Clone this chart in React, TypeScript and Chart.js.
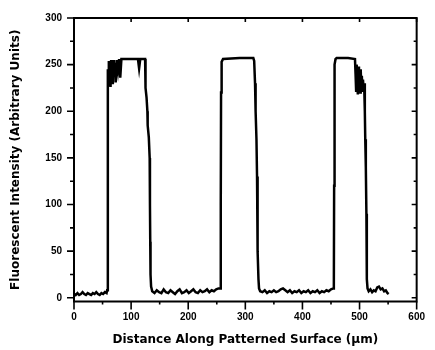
import React, { useEffect, useRef } from "react";
import { Chart, registerables } from "chart.js";

Chart.register(...registerables);

// Distance along patterned surface (µm)
const positionUm = [
  1, 3, 6, 9, 12, 15, 18, 21, 24, 27, 30, 33, 36, 39, 42, 45, 48, 51, 54, 57,
  58, 59, 59.5, 60, 61, 62, 63, 64, 65, 66, 67, 68, 69, 70, 72, 73, 75, 77, 79, 81, 83,
  85, 100, 112, 114, 116, 124.5, 125, 125.5, 127, 128.5, 129, 131, 132.5, 133, 133.5, 134, 135, 137,
  141, 145, 149, 153, 157, 161, 165, 169, 173, 177, 181, 185, 189, 193, 197, 201, 205, 209, 213, 217,
  221, 225, 229, 233, 237, 241, 245, 249, 253,
  256, 257, 257.5, 258, 259, 261, 290, 314, 315.5, 317, 318, 319.5, 320.5, 321, 322, 323, 324, 326,
  330, 334, 338, 342, 346, 350, 354, 358, 362, 366, 370, 374, 378, 382, 386, 390, 394, 398, 402, 406,
  410, 414, 418, 422, 426, 430, 434, 438, 442, 446, 450, 454,
  455, 455.5, 456, 456.5, 458, 460, 480, 492, 493, 494, 495, 496, 497, 498, 499, 500, 501, 502, 503,
  504, 505, 506, 507, 508, 509, 509.5, 510, 511, 512, 512.5, 513, 514, 516,
  519, 522, 525, 528, 531, 534, 537, 540, 543, 546, 549, 551,
];

// Fluorescent intensity (arbitrary units)
const intensity = [
  4, 3, 5, 3, 4, 6, 4, 3, 5, 4, 3, 5, 4, 6, 4, 3, 5, 4, 6, 5,
  8, 120, 245, 228, 254, 232, 250, 226, 255, 238, 250, 229, 255, 240, 252, 231, 255, 244, 256, 236, 256,
  256, 256, 256, 246, 256, 256, 240, 225, 215, 200, 185, 172, 150, 100, 60, 25, 12, 7,
  5, 8, 6, 5, 9, 6, 5, 8, 6, 4, 7, 9, 5, 6, 8, 5, 7, 9, 6, 5,
  8, 6, 7, 9, 6, 8, 7, 9, 10,
  10, 100, 220, 245, 253, 256, 257, 257, 254, 230, 200, 170, 130, 90, 50, 20, 10, 7,
  6, 8, 5, 7, 6, 8, 6, 7, 9, 10, 8, 6, 8, 5, 7, 6, 8, 5, 7, 6,
  8, 5, 7, 6, 8, 5, 7, 6, 8, 7, 9, 10,
  12, 120, 230, 250, 256, 257, 257, 256, 240, 222, 250, 230, 218, 248, 226, 240, 220, 245, 228,
  238, 222, 234, 225, 230, 220, 200, 170, 140, 90, 50, 20, 10, 7,
  9, 6, 8, 7, 11, 12, 9, 10, 7, 8, 5, 4,
];

const xTickValues = [0, 100, 200, 300, 400, 500, 600];
const xMinorValues = [50, 150, 250, 350, 450, 550];
const yTickValues = [0, 50, 100, 150, 200, 250, 300];
const yMinorValues = [25, 75, 125, 175, 225, 275];

const xTitle = "Distance Along Patterned Surface (µm)";
const yTitle = "Fluorescent Intensity (Arbitrary Units)";

const TICK_FONT = "'Liberation Sans', Arial, sans-serif";
const TITLE_FONT = "'DejaVu Sans', sans-serif";

const frameTicksPlugin = {
  id: "frameTicks",
  afterDraw(chart: any) {
    const { ctx, chartArea: a, scales } = chart;
    const x = scales.x;
    const y = scales.y;
    ctx.save();
    ctx.strokeStyle = "#000";
    ctx.lineWidth = 2;
    ctx.strokeRect(a.left, a.top, a.right - a.left, a.bottom - a.top);
    ctx.lineWidth = 1.6;
    ctx.beginPath();
    for (const v of yTickValues) {
      const py = y.getPixelForValue(v);
      ctx.moveTo(a.left - 7, py);
      ctx.lineTo(a.left, py);
      ctx.moveTo(a.right, py);
      ctx.lineTo(a.right - 5, py);
    }
    for (const v of yMinorValues) {
      const py = y.getPixelForValue(v);
      ctx.moveTo(a.left - 4, py);
      ctx.lineTo(a.left, py);
      ctx.moveTo(a.right, py);
      ctx.lineTo(a.right - 3, py);
    }
    for (const v of xTickValues) {
      const px = x.getPixelForValue(v);
      ctx.moveTo(px, a.bottom);
      ctx.lineTo(px, a.bottom + 8);
      ctx.moveTo(px, a.top);
      ctx.lineTo(px, a.top + 4);
    }
    for (const v of xMinorValues) {
      const px = x.getPixelForValue(v);
      ctx.moveTo(px, a.bottom);
      ctx.lineTo(px, a.bottom + 3);
    }
    ctx.stroke();
    ctx.restore();
  },
};

export default function App() {
  const canvasRef = useRef<HTMLCanvasElement | null>(null);

  useEffect(() => {
    if (!canvasRef.current) return;
    const points = positionUm.map((px, i) => ({ x: px, y: intensity[i] }));
    const chart = new Chart(canvasRef.current, {
      type: "scatter",
      data: {
        datasets: [
          {
            data: points,
            showLine: true,
            borderColor: "#000",
            backgroundColor: "#000",
            borderWidth: 2.5,
            pointRadius: 0,
            tension: 0,
          },
        ],
      },
      options: {
        animation: false,
        responsive: true,
        maintainAspectRatio: false,
        layout: { padding: { left: 0, right: 8, top: 15, bottom: 0 } },
        plugins: {
          legend: { display: false },
          tooltip: { enabled: false },
        },
        scales: {
          x: {
            type: "linear",
            min: 0,
            max: 600,
            afterBuildTicks: (s: any) => {
              s.ticks = xTickValues.map((v) => ({ value: v }));
            },
            afterFit: (s: any) => {
              s.height = 48.5;
            },
            ticks: {
              color: "#000",
              font: { family: TICK_FONT, size: 10, weight: "bold" },
              padding: 10,
              maxRotation: 0,
              autoSkip: false,
            },
            grid: { display: false, drawTicks: false },
            border: { display: false },
            title: {
              display: true,
              text: xTitle,
              color: "#000",
              font: { family: TITLE_FONT, size: 12, weight: "bold" },
              padding: { top: 0, bottom: 3 },
            },
          },
          y: {
            type: "linear",
            min: -4,
            max: 300,
            afterBuildTicks: (s: any) => {
              s.ticks = yTickValues.map((v) => ({ value: v }));
            },
            afterFit: (s: any) => {
              s.width = 74;
            },
            ticks: {
              color: "#000",
              font: { family: TICK_FONT, size: 10, weight: "bold" },
              padding: 12,
              autoSkip: false,
            },
            grid: { display: false, drawTicks: false },
            border: { display: false },
            title: {
              display: true,
              text: yTitle,
              color: "#000",
              font: { family: TITLE_FONT, size: 12, weight: "bold" },
              padding: { top: 9, bottom: 0 },
            },
          },
        },
      },
      plugins: [frameTicksPlugin],
    });
    return () => chart.destroy();
  }, []);

  return (
    <div style={{ position: "fixed", left: 0, top: 0, width: 435, height: 350, background: "#fff" }}>
      <canvas ref={canvasRef} />
    </div>
  );
}
